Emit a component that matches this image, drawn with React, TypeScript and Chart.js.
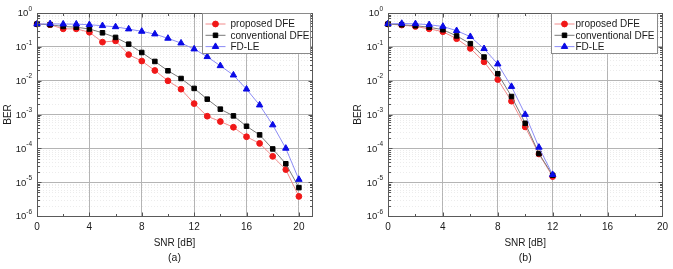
import React, { useEffect, useRef } from 'react';
import { Chart, registerables } from 'chart.js';
import { drawPoint } from 'chart.js/helpers';

Chart.register(...registerables);

// ---- data -------------------------------------------------------------
const snrA = [0, 1, 2, 3, 4, 5, 6, 7, 8, 9, 10, 11, 12, 13, 14, 15, 16, 17, 18, 19, 20];
const proposedA = [0.47, 0.45, 0.34, 0.34, 0.27, 0.138, 0.15, 0.059, 0.038, 0.02, 0.0099, 0.0056, 0.0021, 8.9e-4, 6.2e-4, 4.2e-4, 2.2e-4, 1.4e-4, 5.8e-5, 2.35e-5, 3.8e-6];
const conventionalA = [0.47, 0.45, 0.4, 0.38, 0.336, 0.26, 0.19, 0.12, 0.068, 0.037, 0.0196, 0.0116, 0.0059, 0.00284, 0.00144, 9.1e-4, 4.5e-4, 2.5e-4, 9.6e-5, 3.5e-5, 6.9e-6];
const fdleA = [0.47, 0.48, 0.47, 0.47, 0.45, 0.42, 0.39, 0.336, 0.286, 0.239, 0.178, 0.129, 0.086, 0.051, 0.0275, 0.0146, 0.0056, 0.0019, 4.9e-4, 1.0e-4, 1.2e-5];

const snrB = [0, 1, 2, 3, 4, 5, 6, 7, 8, 9, 10, 11, 12];
const proposedB = [0.47, 0.44, 0.4, 0.34, 0.28, 0.174, 0.09, 0.036, 0.0108, 0.00248, 4.3e-4, 6.8e-5, 1.46e-5];
const conventionalB = [0.47, 0.45, 0.42, 0.38, 0.32, 0.21, 0.124, 0.05, 0.016, 0.0034, 5.5e-4, 7.0e-5, 1.6e-5];
const fdleB = [0.48, 0.49, 0.48, 0.45, 0.4, 0.3, 0.2, 0.088, 0.031, 0.0067, 1.0e-3, 1.07e-4, 1.67e-5];

const seriesLabels = ['proposed DFE', 'conventional DFE', 'FD-LE'];
const xTicks = [0, 4, 8, 12, 16, 20];
const xMinorTicks = [2, 6, 10, 14, 18];
const yExponents = [0, -1, -2, -3, -4, -5, -6];
const xTitle = 'SNR [dB]';
const yTitle = 'BER';

// ---- styling ----------------------------------------------------------
const FONT = 'Arial, "Liberation Sans", sans-serif';
const TEXT = '#1a1a1a';
const seriesStyles = [
  { line: '#f28b8b', marker: '#f01818', pointStyle: 'circle', radius: 2.9, order: 2 },
  { line: '#7a7a7a', marker: '#000000', pointStyle: 'rect', radius: 3.2, order: 1 },
  { line: '#8c8cf5', marker: '#0a0ae6', pointStyle: 'triangle', radius: 3.7, order: 0 },
];

type PanelProps = {
  left: number;
  width: number;
  axisWidth: number;
  padRight: number;
  xMax: number;
  snr: number[];
  values: number[][];
  caption: string;
  titleX: number;
  legendWidth: number;
  legendInset: number;
  legendTextOffset: number;
};

const decorPlugin = {
  id: 'berDecor',
  beforeDatasetsDraw(chart: any) {
    const { ctx, chartArea: a } = chart;
    const ys = chart.scales.y;
    ctx.save();
    ctx.strokeStyle = 'rgba(200,200,200,0.35)';
    ctx.lineWidth = 1;
    ctx.setLineDash([1, 2]);
    for (let e = -6; e < 0; e++) {
      for (let k = 2; k <= 9; k++) {
        const y = Math.round(ys.getPixelForValue(k * Math.pow(10, e))) + 0.5;
        ctx.beginPath();
        ctx.moveTo(a.left, y);
        ctx.lineTo(a.right, y);
        ctx.stroke();
      }
    }
    ctx.restore();
  },
  afterDraw(chart: any) {
    const { ctx, chartArea: a } = chart;
    const opts = chart.options.plugins.berDecor;
    const xs = chart.scales.x;
    const ys = chart.scales.y;
    ctx.save();

    // frame
    ctx.strokeStyle = '#5a5a5a';
    ctx.lineWidth = 1;
    ctx.strokeRect(Math.round(a.left) + 0.5, Math.round(a.top) + 0.5, Math.round(a.right - a.left), Math.round(a.bottom - a.top));

    // inward ticks on all four sides
    ctx.strokeStyle = '#555';
    const tick = (x1: number, y1: number, x2: number, y2: number) => {
      ctx.beginPath();
      ctx.moveTo(x1, y1);
      ctx.lineTo(x2, y2);
      ctx.stroke();
    };
    const L = Math.round(a.left) + 0.5;
    const R = Math.round(a.right) + 0.5;
    const T = Math.round(a.top) + 0.5;
    const B = Math.round(a.bottom) + 0.5;
    for (const v of xTicks) {
      const x = Math.round(xs.getPixelForValue(v)) + 0.5;
      tick(x, B, x, B - 4);
      tick(x, T, x, T + 4);
    }
    for (const v of xMinorTicks) {
      const x = Math.round(xs.getPixelForValue(v)) + 0.5;
      tick(x, B, x, B - 2.5);
      tick(x, T, x, T + 2.5);
    }
    for (let e = -6; e <= 0; e++) {
      const y = Math.round(ys.getPixelForValue(Math.pow(10, e))) + 0.5;
      tick(L, y, L + 4, y);
      tick(R, y, R - 4, y);
      if (e < 0) {
        for (let k = 2; k <= 9; k++) {
          const ym = Math.round(ys.getPixelForValue(k * Math.pow(10, e))) + 0.5;
          tick(L, ym, L + 2.5, ym);
          tick(R, ym, R - 2.5, ym);
        }
      }
    }

    // y tick labels as powers of ten
    ctx.fillStyle = TEXT;
    ctx.textBaseline = 'middle';
    ctx.textAlign = 'right';
    for (const e of yExponents) {
      const y = ys.getPixelForValue(Math.pow(10, e));
      const expText = e === 0 ? '0' : '-' + Math.abs(e);
      ctx.font = `6.5px ${FONT}`;
      const ew = ctx.measureText(expText).width;
      const right = a.left - 5;
      ctx.fillText(expText, right, y - 4);
      ctx.font = `9.5px ${FONT}`;
      ctx.fillText('10', right - ew, y + 0.8);
    }

    // axis titles and caption
    const cx = (a.left + a.right) / 2;
    ctx.textAlign = 'center';
    ctx.font = `10px ${FONT}`;
    ctx.fillText(xTitle, cx, 243);
    ctx.font = `10.5px ${FONT}`;
    ctx.fillText(opts.caption, cx, 258);
    ctx.save();
    ctx.translate(opts.titleX, (a.top + a.bottom) / 2);
    ctx.rotate(-Math.PI / 2);
    ctx.font = `10px ${FONT}`;
    ctx.fillText(yTitle, 0, 0);
    ctx.restore();

    // legend box
    const bw = opts.legendWidth;
    const bx = Math.round(a.right - opts.legendInset - bw) + 0.5;
    const by = Math.round(a.top) + 0.5;
    const bh = 40;
    ctx.fillStyle = '#ffffff';
    ctx.fillRect(bx, by, bw, bh);
    ctx.strokeStyle = '#8a8a8a';
    ctx.strokeRect(bx, by, bw, bh);
    ctx.textAlign = 'left';
    ctx.font = `10px ${FONT}`;
    chart.data.datasets.forEach((ds: any, i: number) => {
      const ry = by + 10.5 + i * 11.3;
      ctx.strokeStyle = ds.borderColor;
      ctx.lineWidth = 1;
      ctx.beginPath();
      ctx.moveTo(bx + 3, ry);
      ctx.lineTo(bx + 23, ry);
      ctx.stroke();
      ctx.fillStyle = ds.pointBackgroundColor;
      ctx.strokeStyle = ds.pointBorderColor;
      drawPoint(ctx, { pointStyle: ds.pointStyle, radius: ds.pointRadius, rotation: 0, borderWidth: 1 } as any, bx + 13, ry);
      ctx.fillStyle = TEXT;
      ctx.fillText(ds.label, bx + opts.legendTextOffset, ry + 0.5);
    });
    ctx.restore();
  },
};

function BerPanel(p: PanelProps) {
  const ref = useRef<HTMLCanvasElement>(null);

  useEffect(() => {
    if (!ref.current) return;
    const datasets = p.values.map((vals, i) => {
      const s = seriesStyles[i];
      return {
        label: seriesLabels[i],
        data: p.snr.map((x, j) => ({ x, y: vals[j] })),
        borderColor: s.line,
        borderWidth: 1,
        backgroundColor: s.marker,
        pointBackgroundColor: s.marker,
        pointBorderColor: s.marker,
        pointBorderWidth: 1,
        pointStyle: s.pointStyle,
        pointRadius: s.radius,
        tension: 0,
        order: s.order,
        clip: false,
      };
    });

    const chart = new Chart(ref.current, {
      type: 'line',
      data: { datasets } as any,
      plugins: [decorPlugin as any],
      options: {
        responsive: false,
        animation: false,
        events: [],
        layout: { padding: { left: 0, top: 13, right: p.padRight, bottom: 0 } },
        plugins: {
          legend: { display: false },
          tooltip: { enabled: false },
          title: { display: false },
          berDecor: { caption: p.caption, titleX: p.titleX, legendWidth: p.legendWidth, legendInset: p.legendInset, legendTextOffset: p.legendTextOffset },
        } as any,
        scales: {
          x: {
            type: 'linear',
            min: 0,
            max: p.xMax,
            afterBuildTicks: (scale: any) => {
              scale.ticks = xTicks.map((v) => ({ value: v }));
            },
            afterFit: (scale: any) => {
              scale.height = 53;
            },
            grid: { color: '#b4b4b4', lineWidth: 1, drawTicks: false },
            border: { display: false },
            ticks: {
              padding: 5,
              color: TEXT,
              font: { family: FONT, size: 10 },
              maxRotation: 0,
              autoSkip: false,
            },
          },
          y: {
            type: 'logarithmic',
            min: 1e-6,
            max: 1,
            afterBuildTicks: (scale: any) => {
              scale.ticks = yExponents.map((e) => ({ value: Math.pow(10, e), major: true }));
            },
            afterFit: (scale: any) => {
              scale.width = p.axisWidth;
            },
            grid: { color: '#b4b4b4', lineWidth: 1, drawTicks: false },
            border: { display: false },
            ticks: { display: false },
          },
        },
      } as any,
    });
    return () => chart.destroy();
  }, []);

  return (
    <canvas
      ref={ref}
      width={p.width}
      height={269}
      style={{ position: 'absolute', left: p.left, top: 0, width: p.width, height: 269, display: 'block' }}
    />
  );
}

export default function App() {
  return (
    <div style={{ position: 'fixed', left: 0, top: 0, width: 673, height: 269, background: '#ffffff', overflow: 'hidden' }}>
      <BerPanel
        left={0}
        width={336}
        axisWidth={37}
        padRight={24}
        xMax={21}
        snr={snrA}
        values={[proposedA, conventionalA, fdleA]}
        caption="(a)"
        titleX={8}
        legendWidth={108}
        legendInset={2}
        legendTextOffset={28}
      />
      <BerPanel
        left={336}
        width={337}
        axisWidth={52}
        padRight={10}
        xMax={20}
        snr={snrB}
        values={[proposedB, conventionalB, fdleB]}
        caption="(b)"
        titleX={22}
        legendWidth={106}
        legendInset={5}
        legendTextOffset={24}
      />
    </div>
  );
}
